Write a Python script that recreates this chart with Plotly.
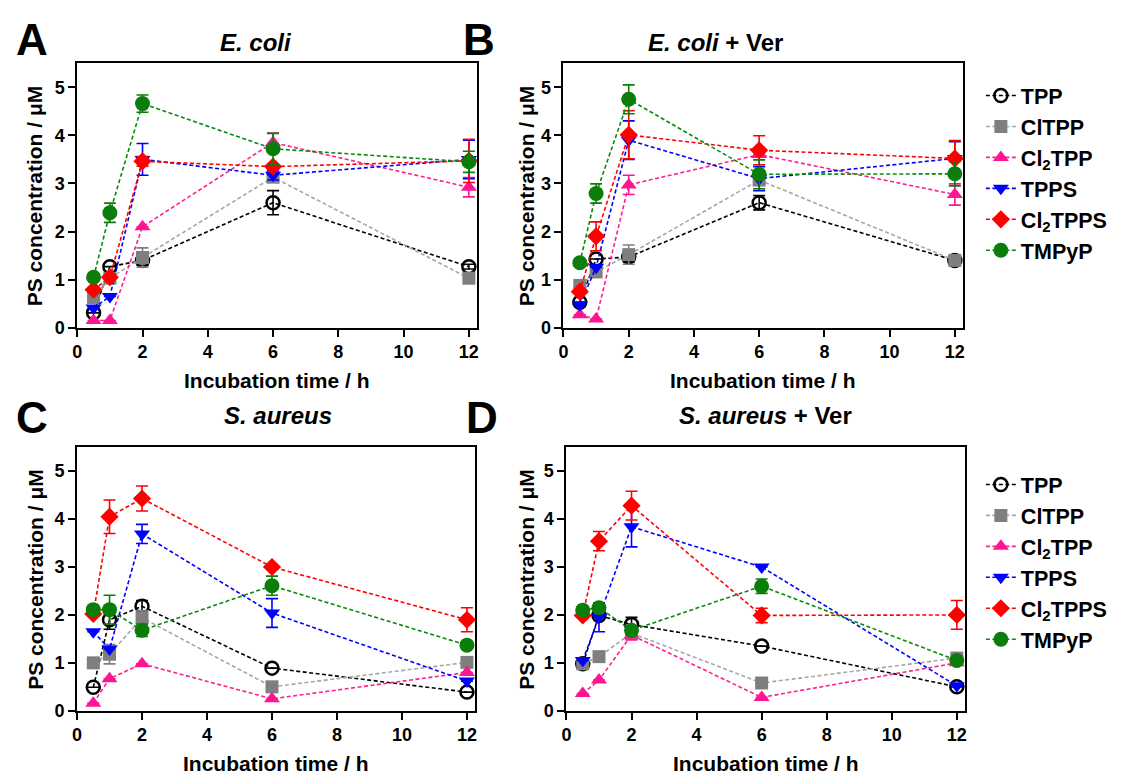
import plotly.graph_objects as go

# ---------------- data ----------------
times = [0.5, 1, 2, 6, 12]
series_names = ["TPP", "ClTPP", "Cl<sub>2</sub>TPP", "TPPS", "Cl<sub>2</sub>TPPS", "TMPyP"]
panel_titles = ["<i>E. coli</i>", "<i>E. coli</i> + Ver", "<i>S. aureus</i>", "<i>S. aureus</i> + Ver"]
panel_letters = ["A", "B", "C", "D"]
x_ticks = [0, 2, 4, 6, 8, 10, 12]
y_ticks = [0, 1, 2, 3, 4, 5]

# rows: TPP, ClTPP, Cl2TPP, TPPS, Cl2TPPS, TMPyP ; columns follow `times`
ecoli_values = [
    [0.31, 1.27, 1.40, 2.60, 1.27],
    [0.63, 1.03, 1.46, 3.13, 1.03],
    [0.15, 0.15, 2.10, 3.85, 2.92],
    [0.41, 0.65, 3.50, 3.17, 3.50],
    [0.79, 1.05, 3.46, 3.35, 3.47],
    [1.05, 2.39, 4.66, 3.72, 3.45],
]
ecoli_errors = [
    [0, 0, 0.10, 0.25, 0.05],
    [0, 0, 0.20, 0.10, 0],
    [0, 0, 0, 0.20, 0.20],
    [0, 0, 0.33, 0.10, 0.40],
    [0, 0, 0.10, 0, 0.45],
    [0, 0.20, 0.18, 0.32, 0.22],
]

ecoli_ver_values = [
    [0.53, 1.43, 1.47, 2.60, 1.40],
    [0.88, 1.16, 1.52, 3.07, 1.40],
    [0.27, 0.18, 2.97, 3.60, 2.77],
    [0.48, 1.26, 3.90, 3.10, 3.52],
    [0.75, 1.90, 4.01, 3.69, 3.52],
    [1.35, 2.79, 4.75, 3.19, 3.20],
]
ecoli_ver_errors = [
    [0, 0, 0.10, 0.15, 0],
    [0, 0, 0.20, 0, 0],
    [0, 0, 0.20, 0, 0.22],
    [0, 0, 0.40, 0.25, 0.35],
    [0, 0.30, 0.50, 0.30, 0.37],
    [0, 0.20, 0.30, 0.30, 0.25],
]

saureus_values = [
    [0.49, 1.90, 2.18, 0.89, 0.39],
    [1.00, 1.18, 1.94, 0.50, 1.01],
    [0.16, 0.67, 0.98, 0.25, 0.80],
    [1.65, 1.29, 3.69, 2.04, 0.62],
    [2.02, 4.05, 4.43, 3.00, 1.90],
    [2.11, 2.11, 1.68, 2.61, 1.37],
]
saureus_errors = [
    [0, 0.20, 0.12, 0, 0],
    [0, 0.20, 0.15, 0, 0],
    [0, 0, 0, 0, 0],
    [0, 0, 0.20, 0.30, 0],
    [0, 0.35, 0.26, 0, 0.25],
    [0, 0.30, 0.13, 0.20, 0],
]

saureus_ver_values = [
    [0.98, 1.99, 1.80, 1.35, 0.50],
    [0.98, 1.13, 1.62, 0.58, 1.10],
    [0.36, 0.64, 1.58, 0.28, 1.00],
    [1.05, 1.95, 3.84, 3.00, 0.52],
    [1.99, 3.54, 4.28, 1.99, 2.00],
    [2.10, 2.15, 1.68, 2.60, 1.05],
]
saureus_ver_errors = [
    [0, 0, 0.15, 0, 0],
    [0, 0, 0, 0, 0],
    [0, 0, 0.10, 0, 0],
    [0, 0.30, 0.42, 0, 0],
    [0, 0.20, 0.30, 0.15, 0.30],
    [0, 0, 0, 0.15, 0],
]

# ---------------- styles ----------------
line_colors = ["#000000", "#a6a6a6", "#ff1f8f", "#0000ff", "#ff0000", "#0a8a0a"]
marker_colors = ["#000000", "#7f7f7f", "#ff1493", "#0000ff", "#ff0000", "#0a7d0a"]
symbols = ["circle-open", "square", "triangle-up", "triangle-down", "diamond", "circle"]
sizes = [13, 13, 14, 14, 14, 15]

FONT = "Liberation Sans, Arial, sans-serif"
W, H = 1121, 782

# (values, errors, x-span px, y-span px, legend, show legend, y-title x px)
panels = [
    (ecoli_values, ecoli_errors, (72.7, 475), (64, 332), "legend", False, 30),
    (ecoli_ver_values, ecoli_ver_errors, (562, 964), (64, 332), "legend", True, 525),
    (saureus_values, saureus_errors, (72.5, 473), (453, 720), "legend2", False, 30),
    (saureus_ver_values, saureus_ver_errors, (565, 966), (453, 720), "legend2", True, 524),
]

fig = go.Figure()
layout = dict(
    width=W, height=H,
    margin=dict(l=0, r=0, t=0, b=0),
    paper_bgcolor="white", plot_bgcolor="white",
    font=dict(family=FONT, color="black"),
    annotations=[],
)

for i, (vals, errs, (x0, x1), (ytop, ybot), leg, showleg, ytx) in enumerate(panels):
    n = i + 1
    xa = "x" if n == 1 else f"x{n}"
    ya = "y" if n == 1 else f"y{n}"
    for s in range(6):
        fig.add_trace(go.Scatter(
            x=times, y=vals[s], xaxis=xa, yaxis=ya,
            mode="lines+markers", name=series_names[s],
            legend=leg, showlegend=showleg, cliponaxis=False,
            line=dict(color=line_colors[s], width=1.6, dash="4px,2.5px"),
            marker=dict(symbol=symbols[s], size=sizes[s], color=marker_colors[s],
                        line=dict(width=2.5 if s == 0 else 0, color=marker_colors[s])),
            error_y=dict(type="data", array=errs[s], visible=True,
                         color=marker_colors[s], thickness=1.6, width=6),
        ))
    axstyle = dict(showline=True, mirror=True, linecolor="black", linewidth=2,
                   ticks="outside", ticklen=7, tickwidth=2, tickcolor="black",
                   showgrid=False, zeroline=False,
                   tickfont=dict(family=FONT, size=18, weight="bold", color="black"))
    layout["xaxis" if n == 1 else f"xaxis{n}"] = dict(
        domain=[x0 / W, x1 / W], anchor=ya, range=[0, 12.25],
        tickvals=x_ticks, **axstyle)
    layout["yaxis" if n == 1 else f"yaxis{n}"] = dict(
        domain=[1 - ybot / H, 1 - ytop / H], anchor=xa, range=[0, 5.5],
        tickvals=y_ticks, **axstyle)

    cx = (x0 + x1) / 2
    cy = (ytop + ybot) / 2
    # axis titles
    layout["annotations"].append(dict(
        text="Incubation time / h", x=cx / W, y=1 - (ybot + 53) / H,
        xref="paper", yref="paper", showarrow=False, xanchor="center", yanchor="middle",
        font=dict(family=FONT, size=21, weight="bold")))
    layout["annotations"].append(dict(
        text="PS concentration / μM", x=ytx / W, y=1 - cy / H, textangle=-90,
        xref="paper", yref="paper", showarrow=False, xanchor="center", yanchor="middle",
        font=dict(family=FONT, size=21, weight="bold")))

title_pos = [(253, 43), (715, 43), (275, 421), (765, 421)]
letter_pos = [(27, 40), (477, 40), (27, 423), (480, 423)]
for i in range(4):
    layout["annotations"].append(dict(
        text=panel_titles[i], x=title_pos[i][0] / W, y=1 - title_pos[i][1] / H,
        xref="paper", yref="paper", showarrow=False, xanchor="center", yanchor="middle",
        font=dict(family=FONT, size=24, weight="bold")))
    layout["annotations"].append(dict(
        text=panel_letters[i], x=letter_pos[i][0] / W, y=1 - letter_pos[i][1] / H,
        xref="paper", yref="paper", showarrow=False, xanchor="center", yanchor="middle",
        font=dict(family=FONT, size=44, weight="bold")))

legstyle = dict(font=dict(family=FONT, size=21.5, weight="bold"),
                bgcolor="rgba(0,0,0,0)", xanchor="left", yanchor="top",
                tracegroupgap=0, itemwidth=30)
layout["legend"] = dict(x=982 / W, y=1 - 76 / H, **legstyle)
layout["legend2"] = dict(x=982 / W, y=1 - 470 / H, **legstyle)

fig.update_layout(**layout)
fig.write_html("out.html",
               config={"displayModeBar": False},
               post_script="document.documentElement.style.overflow='hidden';"
                           "document.body.style.margin='0';document.body.style.overflow='hidden';")
